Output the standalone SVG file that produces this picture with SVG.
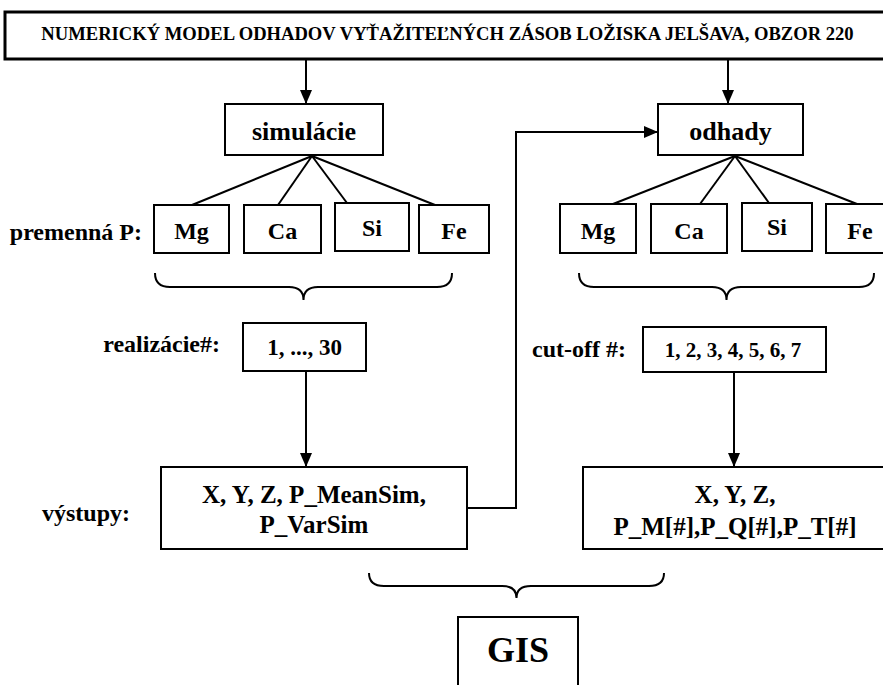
<svg xmlns="http://www.w3.org/2000/svg" width="883" height="685" viewBox="0 0 883 685">
<style>
  .box { fill: #fff; stroke: #000; stroke-width: 2; }
  .title { fill: #fff; stroke: #000; stroke-width: 3; }
  .t { font-family: "Liberation Serif", "Times New Roman", serif; font-weight: bold; fill: #000; }
  .c { text-anchor: middle; }
  .e { text-anchor: end; }
  .ln { fill: none; stroke: #000; stroke-width: 2; }
  .br { fill: none; stroke: #000; stroke-width: 2; }
</style>
<defs>
  <marker id="arr" markerUnits="userSpaceOnUse" markerWidth="14" markerHeight="12" refX="14" refY="6" orient="auto">
    <path d="M0,0 L14,6 L0,12 z" fill="#000"/>
  </marker>
</defs>
<rect width="883" height="685" fill="#fff"/>

<g id="connectors">
  <line class="ln" x1="306" y1="60" x2="306" y2="104" marker-end="url(#arr)"/>
  <line class="ln" x1="728" y1="60" x2="728" y2="104" marker-end="url(#arr)"/>
  <line class="ln" x1="306" y1="371" x2="306" y2="467" marker-end="url(#arr)"/>
  <line class="ln" x1="734" y1="372" x2="734" y2="467" marker-end="url(#arr)"/>
  <polyline class="ln" points="467,508 516,508 516,132 658,132" marker-end="url(#arr)"/>
  <line class="ln" x1="312" y1="156" x2="192" y2="205"/>
  <line class="ln" x1="312" y1="156" x2="278" y2="205"/>
  <line class="ln" x1="312" y1="156" x2="347" y2="203"/>
  <line class="ln" x1="312" y1="156" x2="435" y2="205"/>
  <line class="ln" x1="735" y1="156" x2="613" y2="204"/>
  <line class="ln" x1="735" y1="156" x2="700" y2="204"/>
  <line class="ln" x1="735" y1="156" x2="769" y2="203"/>
  <line class="ln" x1="735" y1="156" x2="857" y2="204"/>
  <path class="br" d="M155,273 Q155,287 170,287 L289,287 Q303.5,287 303.5,300 Q303.5,287 318,287 L437,287 Q452,287 452,273"/>
  <path class="br" d="M579,273 Q579,287 594,287 L712,287 Q726.5,287 726.5,300 Q726.5,287 741,287 L859,287 Q874,287 874,273"/>
  <path class="br" d="M369,573 Q369,586 384,586 L502,586 Q516.5,586 516.5,598 Q516.5,586 531,586 L649,586 Q664,586 664,573"/>
</g>

<g id="title">
  <rect class="title" x="5" y="12" width="890" height="47"/>
  <text class="t c" x="447.5" y="40" font-size="18.6">NUMERICKÝ MODEL ODHADOV VYŤAŽITEĽNÝCH ZÁSOB LOŽISKA JELŠAVA, OBZOR 220</text>
</g>

<g id="simulacie">
  <rect class="box" x="225" y="104" width="158" height="51"/>
  <text class="t c" x="304" y="140" font-size="26">simulácie</text>
</g>
<g id="odhady">
  <rect class="box" x="658" y="104" width="145" height="51"/>
  <text class="t c" x="730.5" y="140" font-size="26">odhady</text>
</g>

<g id="label-premenna">
  <text class="t e" x="142" y="240" font-size="24">premenná P:</text>
</g>
<g id="sim-mg">
  <rect class="box" x="154" y="205" width="75" height="48"/>
  <text class="t c" x="191.5" y="239" font-size="24">Mg</text>
</g>
<g id="sim-ca">
  <rect class="box" x="244" y="205" width="77" height="48"/>
  <text class="t c" x="282.5" y="239" font-size="24">Ca</text>
</g>
<g id="sim-si">
  <rect class="box" x="335" y="203" width="74" height="48"/>
  <text class="t c" x="372" y="236" font-size="24">Si</text>
</g>
<g id="sim-fe">
  <rect class="box" x="419" y="205" width="70" height="48"/>
  <text class="t c" x="454" y="239" font-size="24">Fe</text>
</g>

<g id="odh-mg">
  <rect class="box" x="560" y="204" width="76" height="49"/>
  <text class="t c" x="598" y="239" font-size="24">Mg</text>
</g>
<g id="odh-ca">
  <rect class="box" x="651" y="204" width="76" height="49"/>
  <text class="t c" x="689" y="239" font-size="24">Ca</text>
</g>
<g id="odh-si">
  <rect class="box" x="742" y="203" width="70" height="48"/>
  <text class="t c" x="777" y="235" font-size="24">Si</text>
</g>
<g id="odh-fe">
  <rect class="box" x="826" y="204" width="70" height="49"/>
  <text class="t c" x="860" y="239" font-size="24">Fe</text>
</g>

<g id="label-realizacie">
  <text class="t e" x="220" y="352" font-size="24">realizácie#:</text>
</g>
<g id="realizacie">
  <rect class="box" x="243" y="323" width="123" height="48"/>
  <text class="t c" x="304.5" y="355" font-size="23">1, ..., 30</text>
</g>

<g id="label-cutoff">
  <text class="t e" x="626" y="357" font-size="24">cut-off #:</text>
</g>
<g id="cutoff">
  <rect class="box" x="643" y="327" width="183" height="45"/>
  <text class="t c" x="733" y="357" font-size="21">1, 2, 3, 4, 5, 6, 7</text>
</g>

<g id="label-vystupy">
  <text class="t e" x="130" y="521" font-size="24">výstupy:</text>
</g>
<g id="vystupy-sim">
  <rect class="box" x="161" y="467" width="306" height="82"/>
  <text class="t c" x="314" y="503" font-size="25">X, Y, Z, P_MeanSim,</text>
  <text class="t c" x="314" y="533" font-size="25">P_VarSim</text>
</g>
<g id="vystupy-odh">
  <rect class="box" x="583" y="467" width="320" height="82"/>
  <text class="t c" x="735" y="503" font-size="25">X, Y, Z,</text>
  <text class="t c" x="735" y="535" font-size="25">P_M[#],P_Q[#],P_T[#]</text>
</g>

<g id="gis">
  <rect class="box" x="458" y="617" width="120" height="90"/>
  <text class="t c" x="518" y="662" font-size="36">GIS</text>
</g>
</svg>
